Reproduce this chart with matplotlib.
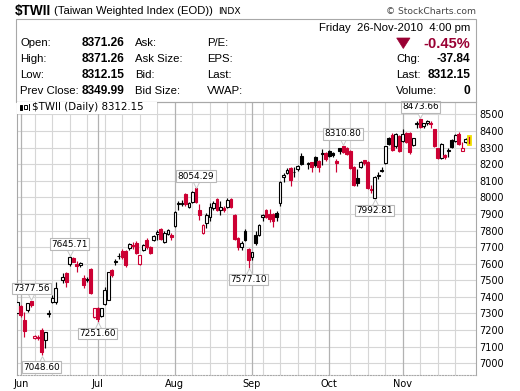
import numpy as np
import pandas as pd
import matplotlib
matplotlib.use('Agg')
import matplotlib.pyplot as plt
from matplotlib.patches import Rectangle, Polygon
from matplotlib.lines import Line2D
from matplotlib.transforms import offset_copy

# ---------------- data ----------------
dates = pd.bdate_range('2010-05-31', '2010-11-26')   # weekday slots
nan = np.nan
opens = [7303, 7345, 7261, 7321, 7376, 7152, 7160, 7200, 7140, 7295, 7371, 7369, nan, 7502, 7546,
         7598, 7636, 7598, 7590, 7516, 7500, 7568, 7279, 7333, 7285, 7357, 7384, 7562, 7610, 7645,
         7678, 7677, 7693, 7712, 7725, 7598, 7680, 7743, 7700, 7743, 7780, 7807, 7733, 7779, 7770,
         7830, 7960, 7962, 8018, 7942, 7974, 8054.29, 7926, 7785, 7848, 7884, 7933, 7987, 7925, 7935,
         7941, 7988, 7893, 7753, 7702, 7797, 7687, 7642, 7773, 7773, 7880, 7924, 7902, 7898, 7907,
         7964, 8121, 8148, 8178, 8150, 8169, 8251, nan, 8200, 8213, 8245, 8219, 8260, 8264, 8281,
         8269, 8219, 8298, 8308, 8300, 8282, 8184, 8114, 8181, 8222, 8213, 8052, 7996, 8130, 8160,
         8205, 8355, 8375, 8309, 8369, 8342, 8389, 8387, 8315, 8440, 8469, 8428, 8450, 8445, 8410,
         8295, 8238, 8255, 8280, 8345, 8342, 8381, 8279, 8333, 8371.26]
highs = [7372, 7350, 7309, 7365, 7377.56, 7170, 7168, 7210, 7190, 7320, 7411, 7491, nan, 7544, 7550,
         7645.71, 7640, 7616, 7612, 7530, 7520, 7575, 7335, 7340, 7335, 7461, 7552, 7570, 7630, 7665,
         7690, 7685, 7725, 7728, 7735, 7655, 7720, 7755, 7705, 7770, 7805, 7815, 7795, 7808, 7785,
         7918, 7975, 7985, 8025, 7970, 8040, 8054.29, 7960, 7840, 7905, 7965, 7975, 7995, 7975, 7945,
         7995, 7995, 7900, 7760, 7735, 7810, 7693, 7672, 7800, 7840, 7900, 7930, 7932, 7905, 7915,
         8098, 8145, 8175, 8185, 8180, 8195, 8265, nan, 8215, 8215, 8250, 8225, 8290, 8270, 8285,
         8275, 8230, 8300, 8310.80, 8305, 8285, 8190, 8170, 8220, 8225, 8220, 8075, 8130, 8150, 8180,
         8312, 8365, 8385, 8390, 8375, 8409, 8395, 8395, 8360, 8460, 8473.66, 8450, 8465, 8460, 8412,
         8300, 8325, 8260, 8295, 8350, 8380, 8395, 8335, 8355, 8371.26]
lows = [7295, 7279, 7158, 7309, 7339, 7145, 7140, 7048.60, 7092, 7280, 7363, 7360, nan, 7484, 7461,
        7585, 7608, 7550, 7582, 7455, 7490, 7420, 7270, 7251.60, 7280, 7352, 7380, 7520, 7595, 7630,
        7630, 7580, 7685, 7690, 7660, 7595, 7675, 7690, 7660, 7738, 7745, 7740, 7725, 7775, 7740,
        7822, 7925, 7950, 7950, 7935, 7968, 7965, 7865, 7780, 7815, 7860, 7925, 7915, 7895, 7910,
        7935, 7935, 7740, 7685, 7685, 7735, 7577.10, 7622, 7712, 7768, 7860, 7878, 7850, 7822, 7860,
        7945, 8095, 8140, 8070, 8120, 8160, 8195, nan, 8170, 8155, 8185, 8155, 8195, 8220, 8240,
        8245, 8154, 8260, 8265, 8255, 8170, 8070, 8066, 8175, 8195, 8050, 8024, 7992.81, 8110, 8150,
        8200, 8315, 8280, 8300, 8275, 8335, 8330, 8262, 8310, 8420, 8420, 8420, 8435, 8420, 8305,
        8230, 8230, 8230, 8245, 8300, 8335, 8315, 8278, 8330, 8312.15]
closes = [7370, 7291, 7195, 7363, 7351, 7164, 7152, 7070, 7187, 7305, 7392, 7454, nan, 7518, 7491,
          7640, 7613, 7586, 7604, 7472, 7506, 7426, 7333, 7267, 7333, 7442, 7550, 7532, 7616, 7649,
          7638, 7592, 7717, 7707, 7666, 7652, 7713, 7701, 7667, 7764, 7793, 7749, 7787, 7803, 7763,
          7913, 7963, 7966, 7957, 7964, 8034, 7973, 7896, 7833, 7893, 7943, 7966, 7924, 7941, 7923,
          7981, 7940, 7749, 7698, 7727, 7740, 7622, 7669, 7722, 7833, 7893, 7884, 7870, 7855, 7883,
          8094, 8134, 8164, 8104, 8154, 8189, 8199, nan, 8205, 8183, 8192, 8180, 8265, 8229, 8249,
          8252, 8205, 8278, 8272, 8262, 8175, 8077, 8085, 8214, 8204, 8054, 8047, 8124, 8134, 8164,
          8309, 8321, 8285, 8381, 8282, 8384, 8335, 8272, 8355, 8446, 8425, 8445, 8457, 8442, 8309,
          8235, 8319, 8241, 8285, 8306, 8375, 8322, 8295, 8349.99, 8312.15]
volume = 0
swing_labels = [('2010-06-04', 'high'), ('2010-06-09', 'low'), ('2010-06-21', 'high'),
                ('2010-07-01', 'low'), ('2010-08-10', 'high'), ('2010-08-31', 'low'),
                ('2010-10-07', 'high'), ('2010-10-20', 'low'), ('2010-11-08', 'high')]
y_ticks = list(range(7000, 8501, 100))
month_labels = ['Jun', 'Jul', 'Aug', 'Sep', 'Oct', 'Nov']

O = np.array(opens, float); Hh = np.array(highs, float)
L = np.array(lows, float); C = np.array(closes, float)

# ---------------- figure ----------------
W, HT = 520, 391
fig = plt.figure(figsize=(W / 100, HT / 100), dpi=100)
fig.patch.set_facecolor('white')
def fx(px): return px / W
def fy(py): return 1 - py / HT

ax = fig.add_axes([fx(16.7), fy(374.5), fx(476) - fx(16.7), fy(101.7) - fy(374.5)])
x = np.arange(len(dates))
ax.set_xlim(-0.14, 130.9)
ax.set_ylim(6932.5, 8576)

RED = '#cc0033'
GRID = '#d6d6d6'
MONTHC = '#b2b2b2'

# grid
for yv in y_ticks:
    ax.axhline(yv, color=GRID, lw=0.8, zorder=0)
month_idx = []
for m in range(6, 12):
    pos = np.where(dates.month == m)[0]
    month_idx.append(pos[0])
for i, d in enumerate(dates):
    if d.weekday() == 0 and min(abs(i - mi) for mi in month_idx) >= 2:
        ax.axvline(i, color=GRID, lw=0.8, zorder=0)
for mi in month_idx:
    ax.axvline(mi, color=MONTHC, lw=0.9, zorder=0)

# candles
prev = np.nan
for i in range(len(x)):
    if np.isnan(C[i]):
        continue
    col = 'black' if (np.isnan(prev) or C[i] >= prev) else RED
    prev = C[i]
    hollow = C[i] > O[i]
    ax.vlines(i, L[i], Hh[i], color=col, lw=0.85, zorder=2)
    lo = min(O[i], C[i]); h = max(abs(C[i] - O[i]), 0.5)
    last = (i == len(x) - 1)
    ax.bar(i, h, bottom=lo, width=0.8 if not last else 1.0,
           facecolor='white' if hollow else col,
           edgecolor=('#f0e000' if last else col), linewidth=0.8 if not last else 1.3, zorder=3)

# swing labels
for ds, kind in swing_labels:
    i = int(np.where(dates == pd.Timestamp(ds))[0][0])
    val = Hh[i] if kind == 'high' else L[i]
    dy = 7.5 if kind == 'high' else -7.5
    ax.annotate(f'{val:.2f}', xy=(i, val), xytext=(0, dy), textcoords='offset pixels',
                ha='center', va='bottom' if kind == 'high' else 'top', fontsize=6.4,
                family='DejaVu Sans', color='black', zorder=6, annotation_clip=False,
                bbox=dict(boxstyle='square,pad=0.15', fc='white', ec='#b8b8b8', lw=0.8))
    tr = offset_copy(ax.transData, fig=fig, x=0, y=(3.5 if kind == 'high' else -3.5), units='dots')
    ax.plot([i], [val], marker='v' if kind == 'high' else '^', ms=4, mfc='white',
            mec='#c8c8c8', mew=0.7, transform=tr, zorder=5, clip_on=False)

# axes styling
for s in ax.spines.values():
    s.set_color('#a8a8a8'); s.set_linewidth(0.8)
ax.spines['bottom'].set_linestyle((0, (1, 1.5)))
ax.yaxis.tick_right()
ax.set_yticks(y_ticks)
ax.set_yticklabels([str(v) for v in y_ticks], fontsize=7, family='DejaVu Sans')
ax.tick_params(axis='y', length=0, pad=2.5)
ax.set_xticks(month_idx)
ax.set_xticklabels(month_labels, fontsize=7, family='DejaVu Sans')
ax.tick_params(axis='x', length=0, pad=3.5)

# in-chart legend label
fig.add_artist(Rectangle((fx(17.3), fy(113.5)), fx(157) - fx(17.3), fy(102.2) - fy(113.5),
                         transform=fig.transFigure, fc='white', ec='none', zorder=10))
fig.text(fx(31.5), fy(107.5), f'\\$TWII (Daily) {C[-1]:.2f}', fontsize=7.4, family='DejaVu Sans',
         va='center', ha='left', zorder=11)
# tiny candle icon
for (x0, x1, y0, y1, filled) in [(19.8, 22.3, 104.5, 109.5, True), (24.3, 27.0, 105.0, 109.0, False)]:
    fig.add_artist(Rectangle((fx(x0), fy(y1)), fx(x1) - fx(x0), fy(y0) - fy(y1), transform=fig.transFigure,
                             fc='black' if filled else 'white', ec='black', lw=0.7, zorder=12))
fig.add_artist(Line2D([fx(28.8), fx(28.8)], [fy(103.5), fy(110.5)], transform=fig.transFigure,
                      color='black', lw=0.7, zorder=12))

# ---------------- header ----------------
fig.add_artist(Rectangle((fx(16.2), fy(101.7)), fx(476) - fx(16.2), fy(19) - fy(101.7),
                         transform=fig.transFigure, fc='none', ec='#a8a8a8', lw=0.8, zorder=9))
hf = 'Liberation Sans'
fig.text(fx(14.5), fy(11), '\\$TWII', fontsize=9.8, weight='bold', family=hf, va='center')
fig.text(fx(54), fy(11.5), '(Taiwan Weighted Index (EOD))', fontsize=8.1, family=hf, va='center')
fig.text(fx(218), fy(11.5), 'INDX', fontsize=6.6, family='DejaVu Sans', va='center')
fig.text(fx(476), fy(11.5), '\u00a9 StockCharts.com', fontsize=6.6, family='DejaVu Sans',
         color='#444444', va='center', ha='right')

rows = [43.5, 59.5, 75.5, 91.5]
col1 = ['Open:', 'High:', 'Low:', 'Prev Close:']
vals = [O[-1], Hh[-1], L[-1], C[-2]]
col3 = ['Ask:', 'Ask Size:', 'Bid:', 'Bid Size:']
col4 = ['P/E:', 'EPS:', 'Last:', 'VWAP:']
for r, a, v, b, c in zip(rows, col1, vals, col3, col4):
    fig.text(fx(20.5), fy(r), a, fontsize=8.2, family=hf, va='center')
    fig.text(fx(81.5), fy(r), f'{v:.2f}', fontsize=8.6, weight='bold', family=hf, va='center')
    fig.text(fx(135), fy(r), b, fontsize=8.2, family=hf, va='center')
    fig.text(fx(207), fy(r), c, fontsize=8.2, family=hf, va='center')

chg = C[-1] - C[-2]
pct = chg / C[-2] * 100
DR = '#990033'
fig.text(fx(470.5), fy(28), 'Friday  26-Nov-2010  4:00 pm', fontsize=8.2, family=hf, va='center', ha='right')
fig.add_artist(Polygon([(fx(396.7), fy(38)), (fx(410), fy(38)), (fx(403.3), fy(48.5))],
                       closed=True, transform=fig.transFigure, fc=DR, ec=DR, lw=0.5))
fig.text(fx(470.5), fy(43.5), f'{pct:.2f}%', fontsize=10.5, weight='bold', color=DR, family=hf,
         va='center', ha='right')
for r, lab, val in zip(rows[1:], ['Chg:', 'Last:', 'Volume:'], [f'{chg:.2f}', f'{C[-1]:.2f}', f'{volume}']):
    fig.text(fx(396), fy(r), lab, fontsize=8.2, family=hf, va='center')
    fig.text(fx(470.5), fy(r), val, fontsize=8.6, weight='bold', family=hf, va='center', ha='right')

fig.savefig('out.png', dpi=100)
